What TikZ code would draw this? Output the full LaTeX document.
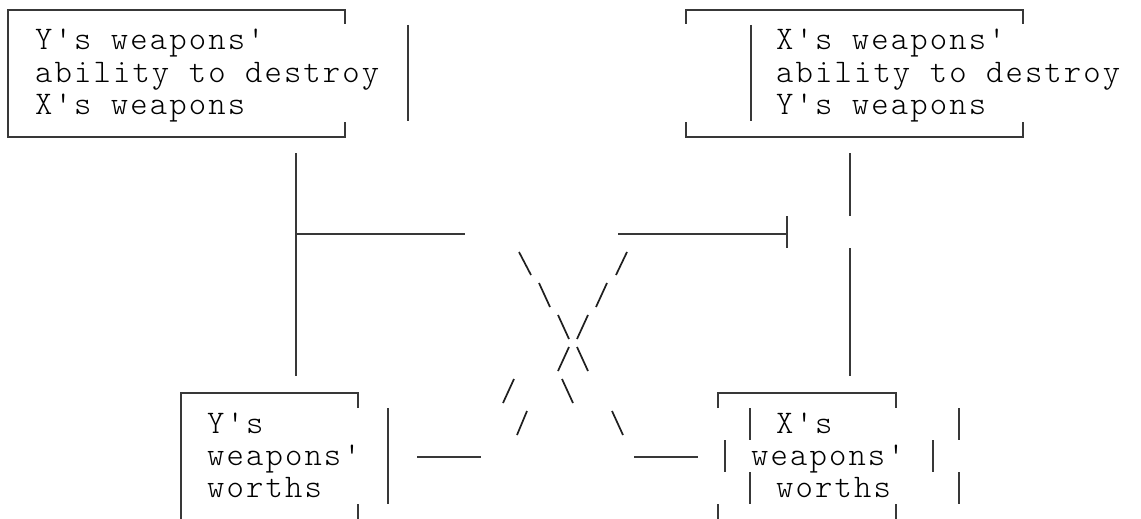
\documentclass[tikz,border=0pt]{standalone}
\usepackage{fontspec}
\newfontfamily\mono{lmmonolt10-regular}[Extension=.otf, LetterSpace=6.5]
\newcommand{\monotext}{\mono\fontsize{33}{33}\selectfont}
\begin{document}
\begin{tikzpicture}[x=1pt,y=-1pt,
  boxline/.style={line width=2pt, draw=black!78},
  slash/.style={line width=1.7pt, draw=black!88},
  txt/.style={font=\monotext, inner sep=0pt, anchor=base west, text=black}]
\useasboundingbox (0,0) rectangle (1141,519);

% ---------- top-left box ----------
\draw[boxline] (345,24) -- (345,10) -- (8,10) -- (8,137) -- (345,137) -- (345,122);
\draw[boxline] (408,25) -- (408,121);
\node[txt] (tl1) at (35,50) {Y's weapons'};
\node[txt] (tl2) at (35,82) {ability to destroy};
\node[txt] (tl3) at (35,114) {X's weapons};

% ---------- top-right box ----------
\draw[boxline] (686,24) -- (686,10) -- (1023,10) -- (1023,24);
\draw[boxline] (686,122) -- (686,137) -- (1023,137) -- (1023,122);
\draw[boxline] (751,25) -- (751,121);
\node[txt] (tr1) at (776,50) {X's weapons'};
\node[txt] (tr2) at (776,82) {ability to destroy};
\node[txt] (tr3) at (776,114) {Y's weapons};

% ---------- bottom-left box ----------
\draw[boxline] (358,408) -- (358,393) -- (181,393) -- (181,519);
\draw[boxline] (358,504) -- (358,519);
\draw[boxline] (388,408) -- (388,504);
\node[txt] (bl1) at (207,433) {Y's};
\node[txt] (bl2) at (207,465) {weapons'};
\node[txt] (bl3) at (207,497) {worths};

% ---------- bottom-right box ----------
\draw[boxline] (718,408) -- (718,393) -- (896,393) -- (896,408);
\draw[boxline] (718,504) -- (718,519);
\draw[boxline] (896,504) -- (896,519);
\draw[boxline] (750,408) -- (750,440);
\draw[boxline] (959,408) -- (959,440);
\draw[boxline] (725,440) -- (725,472);
\draw[boxline] (933,440) -- (933,472);
\draw[boxline] (750,472) -- (750,504);
\draw[boxline] (959,472) -- (959,504);
\node[txt] (br1) at (776,433) {X's};
\node[txt] (br2) at (751,465) {weapons'};
\node[txt] (br3) at (776,497) {worths};

% ---------- connectors ----------
\coordinate (lvtop) at (296,153);
\coordinate (lvbot) at (296,376);
\coordinate (lhl) at (296,234);
\coordinate (lhr) at (465,234);
\draw[boxline] (lvtop) -- (lvbot);
\draw[boxline] (lhl) -- (lhr);

\coordinate (rhl) at (618,234);
\coordinate (rhr) at (787,234);
\coordinate (rtickt) at (787,216);
\coordinate (rtickb) at (787,248);
\draw[boxline] (rhl) -- (rhr);
\draw[boxline] (rtickt) -- (rtickb);

\coordinate (rv1) at (850,153);
\coordinate (rv2) at (850,216);
\coordinate (rv3) at (850,248);
\coordinate (rv4) at (850,376);
\draw[boxline] (rv1) -- (rv2);
\draw[boxline] (rv3) -- (rv4);

\coordinate (ldl) at (417,457);
\coordinate (ldr) at (481,457);
\coordinate (rdl) at (634,457);
\coordinate (rdr) at (698,457);
\draw[boxline] (ldl) -- (ldr);
\draw[boxline] (rdl) -- (rdr);

% slashes
\draw[slash] (519,252) -- (531,275);
\draw[slash] (627,252) -- (616,275);
\draw[slash] (539,283) -- (550,307);
\draw[slash] (607,283) -- (596,307);
\draw[slash] (558,315) -- (569,339);
\draw[slash] (588,315) -- (577,339);
\draw[slash] (569,347) -- (558,371);
\draw[slash] (577,347) -- (588,371);
\draw[slash] (514,379) -- (503,403);
\draw[slash] (562,379) -- (573,403);
\draw[slash] (527,411) -- (517,435);
\draw[slash] (612,411) -- (623,435);
\end{tikzpicture}
\end{document}
